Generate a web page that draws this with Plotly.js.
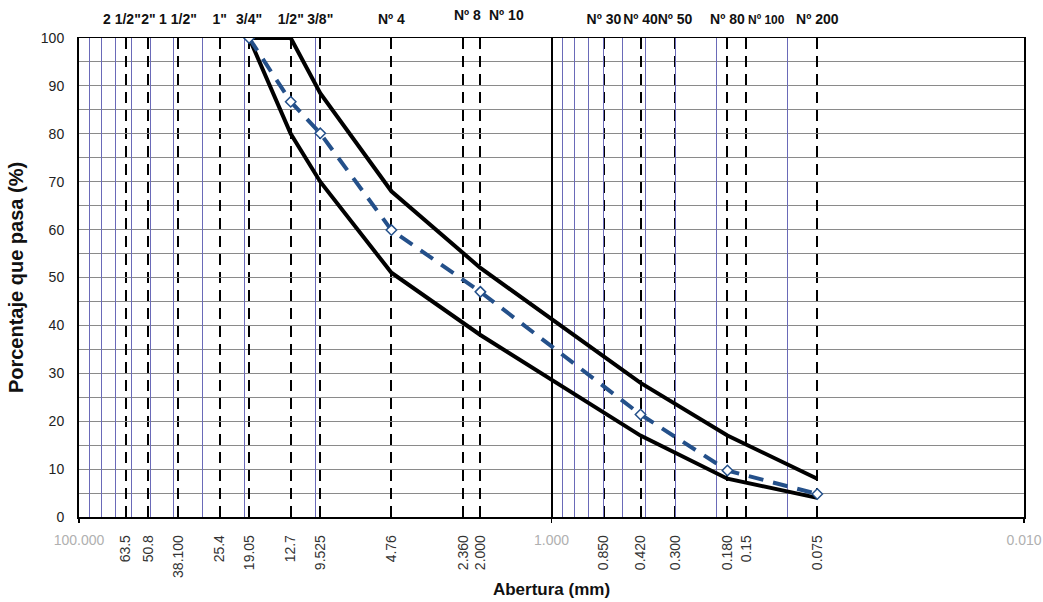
<!DOCTYPE html>
<html>
<head>
<meta charset="utf-8">
<script src="https://cdn.plot.ly/plotly-3.0.1.min.js"></script>
<style>html,body{margin:0;padding:0;background:#fff;}#chart{width:1043px;height:602px;}</style>
</head>
<body>
<div id="chart"></div>
<script>
// Sieve openings (position on the axis, mm) and their labels
const sieveSizes = [63.5, 50.8, 38.1, 25.4, 19.05, 12.7, 9.525, 4.76, 2.36, 2.0, 0.6, 0.42, 0.3, 0.18, 0.15, 0.075];
const sieveMmLabels = ['63.5', '50.8', '38.100', '25.4', '19.05', '12.7', '9.525', '4.76', '2.360', '2.000', '0.850', '0.420', '0.300', '0.180', '0.15', '0.075'];
const sieveNames = ['2 1/2"', '2"', '1 1/2"', '1"', '3/4"', '1/2"', '3/8"', 'Nº 4', 'Nº 8', 'Nº 10', 'Nº 30', 'Nº 40', 'Nº 50', 'Nº 80', 'Nº 100', 'Nº 200'];

// Major decades and minor log grid
const majorVals = [100, 1, 0.01];
const majorLabels = ['100.000', '1.000', '0.010'];
const minorVals = [90, 80, 70, 60, 50, 40, 30, 20, 10, 0.9, 0.8, 0.7, 0.6, 0.5, 0.4, 0.3, 0.2, 0.1];

// Gradation data
const limitSizes = [19.05, 12.7, 9.525, 4.76, 2.0, 0.42, 0.18, 0.075];
const upperLimit = [100, 100, 88.5, 68, 52, 28, 17, 8];
const lowerLimit = [100, 80, 70, 51, 38, 17, 8, 4];
const sampleSizes = [19.05, 12.7, 9.525, 4.76, 2.0, 0.42, 0.18, 0.075];
const samplePassing = [100, 86.7, 80.1, 59.9, 47, 21.4, 9.7, 4.8];

const yTicks = [0, 10, 20, 30, 40, 50, 60, 70, 80, 90, 100];

// Label placement tweaks (style only): labels drawn as offset annotations
const labelOffsets = {
  '2 1/2"': {dx: -4, dy: 0, size: 14},
  'Nº 8':   {dx: 4,  dy: 4, size: 14},
  'Nº 10':  {dx: 26, dy: 4, size: 14},
  'Nº 100': {dx: 20, dy: 0, size: 12}
};

const FONT = 'Liberation Sans, Arial, sans-serif';
const xRange = [Math.log10(100), Math.log10(0.01)];

const allIdx = sieveNames.map((n, i) => i);
const axisIdx = allIdx.filter(i => !(sieveNames[i] in labelOffsets));
const annIdx = allIdx.filter(i => sieveNames[i] in labelOffsets);

const traces = [
  {x: limitSizes, y: upperLimit, xaxis: 'x', yaxis: 'y', type: 'scatter', mode: 'lines',
   line: {color: '#000', width: 4}, hoverinfo: 'x+y', showlegend: false},
  {x: limitSizes, y: lowerLimit, xaxis: 'x', yaxis: 'y', type: 'scatter', mode: 'lines',
   line: {color: '#000', width: 4}, hoverinfo: 'x+y', showlegend: false},
  {x: sampleSizes, y: samplePassing, xaxis: 'x', yaxis: 'y', type: 'scatter', mode: 'lines+markers',
   line: {color: '#24508a', width: 4, dash: '15px,10px'},
   marker: {symbol: 'diamond', size: 8, color: '#fff', line: {color: '#24508a', width: 1.5}},
   hoverinfo: 'x+y', showlegend: false},
  {x: [], y: [], xaxis: 'x2', yaxis: 'y', type: 'scatter', showlegend: false, hoverinfo: 'skip'},
  {x: [], y: [], xaxis: 'x3', yaxis: 'y', type: 'scatter', showlegend: false, hoverinfo: 'skip'},
  {x: [], y: [], xaxis: 'x4', yaxis: 'y', type: 'scatter', showlegend: false, hoverinfo: 'skip'}
];

const baseX = {type: 'log', range: xRange, autorange: false, zeroline: false, fixedrange: true};

const annotations = annIdx.map(i => {
  const o = labelOffsets[sieveNames[i]];
  return {
    xref: 'x', yref: 'paper', x: Math.log10(sieveSizes[i]), y: 1,
    xanchor: 'center', yanchor: 'bottom', showarrow: false,
    xshift: o.dx, yshift: 9 + o.dy,
    text: sieveNames[i],
    font: {family: FONT, size: o.size, weight: 'bold', color: '#111'}
  };
});

const layout = {
  width: 1043, height: 602,
  margin: {l: 79, r: 19, t: 38, b: 85},
  paper_bgcolor: '#fff', plot_bgcolor: '#fff',
  showlegend: false,
  font: {family: FONT, color: '#222'},
  annotations: annotations,
  xaxis: Object.assign({}, baseX, {
    tickmode: 'array', tickvals: sieveSizes, ticktext: sieveMmLabels,
    tickangle: -90, ticks: '', ticklabelstandoff: 11,
    tickfont: {family: FONT, size: 14, color: '#333'},
    showgrid: true, gridcolor: '#000', gridwidth: 2, griddash: '11px,7px',
    showline: true, linecolor: '#000', linewidth: 1.5,
    title: {text: 'Abertura (mm)', font: {family: FONT, size: 17, weight: 'bold', color: '#111'}, standoff: 6}
  }),
  xaxis2: Object.assign({}, baseX, {
    overlaying: 'x', side: 'top', anchor: 'y',
    tickmode: 'array', tickvals: axisIdx.map(i => sieveSizes[i]), ticktext: axisIdx.map(i => sieveNames[i]),
    tickangle: 0, ticks: '', ticklabelstandoff: 7,
    tickfont: {family: FONT, size: 14, weight: 'bold', color: '#111'},
    showgrid: false, showline: true, linecolor: '#000', linewidth: 1.5
  }),
  xaxis3: Object.assign({}, baseX, {
    overlaying: 'x', side: 'bottom', anchor: 'y',
    tickmode: 'array', tickvals: majorVals, ticktext: majorLabels,
    tickangle: 0, ticks: 'outside', ticklen: 5, tickcolor: '#000', tickwidth: 1.5,
    ticklabelstandoff: 5,
    tickfont: {family: FONT, size: 14, color: '#b0b0b0'},
    showgrid: true, gridcolor: '#000', gridwidth: 2, showline: false
  }),
  xaxis4: Object.assign({}, baseX, {
    overlaying: 'x', anchor: 'y',
    tickmode: 'array', tickvals: minorVals, showticklabels: false, ticks: '',
    showgrid: true, gridcolor: '#6a6ab8', gridwidth: 1, showline: false
  }),
  yaxis: {
    range: [0, 100], autorange: false, fixedrange: true,
    tickmode: 'array', tickvals: yTicks, ticks: '', ticklabelstandoff: 10,
    tickfont: {family: FONT, size: 14, color: '#222'},
    showgrid: true, gridcolor: '#8a8a8a', gridwidth: 1,
    minor: {dtick: 5, tick0: 0, showgrid: true, gridcolor: '#8a8a8a', gridwidth: 1, ticks: ''},
    zeroline: false, showline: true, linecolor: '#000', linewidth: 2, mirror: true,
    title: {text: 'Porcentaje que pasa (%)', font: {family: FONT, size: 20, weight: 'bold', color: '#111'}, standoff: 12}
  }
};

Plotly.newPlot('chart', traces, layout, {staticPlot: true, displayModeBar: false});
</script>
</body>
</html>
